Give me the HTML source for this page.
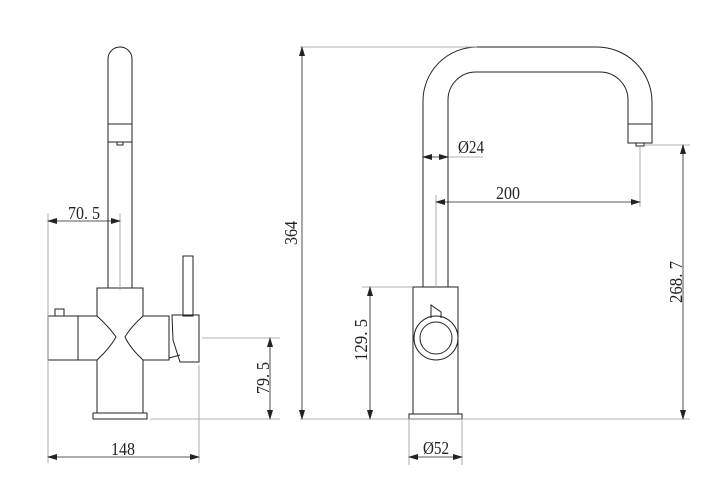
<!DOCTYPE html>
<html><head><meta charset="utf-8"><style>html,body{margin:0;padding:0;background:#fff}svg{display:block}text{font-family:"Liberation Serif",serif}</style></head><body>
<svg width="727" height="495" viewBox="0 0 727 495" xmlns="http://www.w3.org/2000/svg">
<defs>
<marker id="a" markerWidth="10" markerHeight="6" refX="9" refY="3" orient="auto-start-reverse" markerUnits="userSpaceOnUse"><path d="M0,0 L10,3 L0,6 z" fill="#222"/></marker>
</defs>
<g fill="none" stroke="#222" stroke-width="1">
<path d="M108,288 V59 A12,12 0 0 1 132,59 V288"/>
<line x1="108" y1="124" x2="132" y2="124"/>
<line x1="108" y1="142" x2="132" y2="142"/>
<rect x="117" y="142" width="6" height="3"/>
<path d="M97,316 V288 H143 V316"/>
<rect x="48" y="316" width="30" height="44"/>
<path d="M55,316 V309 H64 V316"/>
<path d="M78,316 H97 Q110,328 116,337 Q110,348 97,360 H78"/>
<path d="M169,316 H143 Q130,328 125,337 Q130,348 143,360 H169 Z"/>
<path d="M97,360 V413 M143,360 V413"/>
<rect x="93" y="413" width="54" height="6"/>
<rect x="183" y="256" width="10" height="60"/>
<path d="M172,315 H199 V362 H180 L173,340 Z"/>
<path d="M169,358 L180,355"/>
<path d="M423,287 V101 A54,54 0 0 1 477,47 H597 A55,55 0 0 1 652,102 V143 H628 V100 A28,28 0 0 0 600,72 H476 A28,28 0 0 0 448,100 V287"/>
<line x1="628" y1="124" x2="652" y2="124"/>
<rect x="636" y="143" width="8" height="3"/>
<rect x="413" y="287" width="45" height="127"/>
<rect x="409" y="414" width="53" height="5"/>
<circle cx="436" cy="338" r="22"/>
<circle cx="436" cy="338" r="16"/>
<path d="M431,318 V305 L441,312 V318"/>
</g>
<g fill="none" stroke="#999" stroke-width="0.8">
<line x1="48" y1="213" x2="48" y2="463"/>
<line x1="120" y1="213" x2="120" y2="290"/>
<line x1="202" y1="338" x2="280" y2="338"/>
<line x1="150" y1="419" x2="280" y2="419"/>
<line x1="199" y1="365" x2="199" y2="463"/>
<line x1="300" y1="47" x2="477" y2="47"/>
<line x1="300" y1="419" x2="690" y2="419"/>
<line x1="436" y1="195" x2="436" y2="287"/>
<line x1="640" y1="146" x2="640" y2="207"/>
<line x1="644" y1="145" x2="690" y2="145"/>
<line x1="362" y1="287" x2="413" y2="287"/>
<line x1="409" y1="419" x2="409" y2="465"/>
<line x1="462" y1="419" x2="462" y2="465"/>
<line x1="448" y1="157" x2="483" y2="157"/>
</g>
<g stroke="#222" stroke-width="0.8" marker-start="url(#a)" marker-end="url(#a)">
<line x1="48" y1="221" x2="120" y2="221"/>
<line x1="270" y1="338" x2="270" y2="419"/>
<line x1="48" y1="457" x2="199" y2="457"/>
<line x1="302" y1="47" x2="302" y2="419"/>
<line x1="423" y1="157" x2="448" y2="157"/>
<line x1="436" y1="202" x2="640" y2="202"/>
<line x1="683" y1="145" x2="683" y2="419"/>
<line x1="370" y1="287" x2="370" y2="419"/>
<line x1="409" y1="457" x2="462" y2="457"/>
</g>
<g font-size="18" fill="#222" text-anchor="middle">
<text x="84" y="219" textLength="32" lengthAdjust="spacingAndGlyphs">70. 5</text>
<text x="123" y="455" textLength="24" lengthAdjust="spacingAndGlyphs">148</text>
<text transform="translate(269,378) rotate(-90)" textLength="32" lengthAdjust="spacingAndGlyphs">79. 5</text>
<text transform="translate(297,233) rotate(-90)" textLength="24" lengthAdjust="spacingAndGlyphs">364</text>
<text transform="translate(367,340) rotate(-90)" textLength="42" lengthAdjust="spacingAndGlyphs">129. 5</text>
<text transform="translate(682,282) rotate(-90)" textLength="42" lengthAdjust="spacingAndGlyphs">268. 7</text>
<text x="508" y="199" textLength="24" lengthAdjust="spacingAndGlyphs">200</text>
<text x="471" y="153" textLength="26" lengthAdjust="spacingAndGlyphs">Ø24</text>
<text x="436" y="454" textLength="26" lengthAdjust="spacingAndGlyphs">Ø52</text>
</g>
</svg>
</body></html>
